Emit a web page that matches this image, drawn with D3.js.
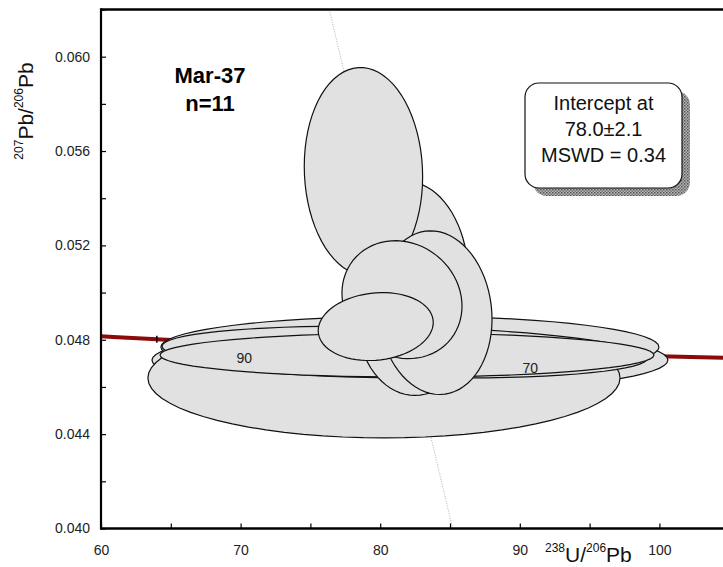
<!DOCTYPE html>
<html>
<head>
<meta charset="utf-8">
<script src="https://cdn.jsdelivr.net/npm/d3@7"></script>
<style>
  body { margin: 0; background: #fff; }
  svg { display: block; font-family: Arial, "Liberation Sans", sans-serif; }
  .tick text { font-size: 14px; fill: #222; }
</style>
</head>
<body>
<div id="chart"></div>
<script>
// Tera-Wasserburg plot, sample Mar-37

// error ellipses (2 sigma), in drawing order
const spotNames = ['T0', 'G', 'T1', 'T2', 'T3', 'B', 'A', 'F', 'C', 'D', 'E'];
const spotX    = [82.13, 80.27, 82.13, 81.78, 81.92, 82.35, 78.80, 82.49, 83.93, 81.56, 79.68];
const spotXErr = [18.48, 16.91, 17.84, 17.41, 17.69, 3.94, 4.24, 4.13, 4.08, 4.30, 4.12];
const spotY    = [0.04714, 0.04638, 0.04769, 0.04748, 0.04735, 0.05114, 0.05513, 0.04890, 0.04915, 0.04970, 0.04856];
const spotYErr = [0.00136, 0.00254, 0.00131, 0.00110, 0.00093, 0.00356, 0.00441, 0.00326, 0.00347, 0.00250, 0.00144];
const spotRho  = [0, 0, 0, -0.22, 0, -0.1, -0.05, 0, -0.08, -0.11, 0.12];

// concordia curve
const concordiaX = [60, 64, 70, 75, 80, 85, 90, 95, 100, 105, 110];
const concordiaY = [0.04815, 0.04802, 0.04784, 0.04772, 0.04761, 0.04752, 0.04744, 0.04736, 0.04730, 0.04723, 0.04716];

// age marks on the concordia (Ma)
const ageMa = [100, 90, 80, 70];
const ageX  = [64.0, 71.1, 80.0, 91.6];
const ageY  = [0.04802, 0.04782, 0.04761, 0.04741];
const ageShown = [90, 70];

// discordia end points
const discordiaX = [76.35, 85.19];
const discordiaY = [0.062, 0.040];

const xTicks = [60, 65, 70, 75, 80, 85, 90, 95, 100, 105, 110];
const xLabels = [60, 70, 80, 90, 100];
const yTicks = [0.040, 0.042, 0.044, 0.046, 0.048, 0.050, 0.052, 0.054, 0.056, 0.058, 0.060, 0.062];
const yLabels = [0.040, 0.044, 0.048, 0.052, 0.056, 0.060];

const boxLines = ['Intercept at', '78.0\u00b12.1', 'MSWD = 0.34'];

const W = 723, H = 567;
const margin = { left: 101, top: 9.5 };
const plotW = 698, plotH = 519;

const svg = d3.select('#chart').append('svg')
  .attr('width', W).attr('height', H);

const defs = svg.append('defs');
defs.append('clipPath').attr('id', 'plotClip')
  .append('rect').attr('x', 0).attr('y', 0).attr('width', plotW).attr('height', plotH);
const pat = defs.append('pattern').attr('id', 'halftone')
  .attr('width', 3).attr('height', 3).attr('patternUnits', 'userSpaceOnUse');
pat.append('rect').attr('width', 3).attr('height', 3).attr('fill', '#b4b4b4');
pat.append('rect').attr('width', 1.5).attr('height', 1.5).attr('fill', '#555');
pat.append('rect').attr('x', 1.5).attr('y', 1.5).attr('width', 1.5).attr('height', 1.5).attr('fill', '#777');

const g = svg.append('g')
  .attr('transform', 'translate(' + margin.left + ',' + margin.top + ')');

const x = d3.scaleLinear().domain([60, 110]).range([0, plotW]);
const y = d3.scaleLinear().domain([0.040, 0.062]).range([plotH, 0]);

const plot = g.append('g').attr('clip-path', 'url(#plotClip)');

// discordia
plot.append('line')
  .attr('x1', x(discordiaX[0])).attr('y1', y(discordiaY[0]))
  .attr('x2', x(discordiaX[1])).attr('y2', y(discordiaY[1]))
  .attr('stroke', '#9a9a9a').attr('stroke-width', 0.8)
  .attr('stroke-dasharray', '1,1.5');

// concordia
const line = d3.line().x(d => x(d[0])).y(d => y(d[1])).curve(d3.curveMonotoneX);
plot.append('path')
  .datum(d3.zip(concordiaX, concordiaY))
  .attr('d', line)
  .attr('fill', 'none')
  .attr('stroke', '#8c0a0a')
  .attr('stroke-width', 4);

plot.selectAll('.agetick')
  .data(ageX)
  .enter().append('line')
  .attr('class', 'agetick')
  .attr('x1', d => x(d)).attr('x2', d => x(d))
  .attr('y1', (d, i) => y(ageY[i]) - 3.5)
  .attr('y2', (d, i) => y(ageY[i]) + 3.5)
  .attr('stroke', '#000').attr('stroke-width', 1.5);

// ellipses
function ellipsePath(i) {
  const n = 72, pts = [];
  const r = spotRho[i], s = Math.sqrt(1 - r * r);
  for (let k = 0; k < n; k++) {
    const t = 2 * Math.PI * k / n;
    const dx = spotXErr[i] * Math.cos(t);
    const dy = spotYErr[i] * (r * Math.cos(t) + s * Math.sin(t));
    pts.push([x(spotX[i] + dx), y(spotY[i] + dy)]);
  }
  return d3.line().curve(d3.curveLinearClosed)(pts);
}

plot.selectAll('.spot')
  .data(spotNames)
  .enter().append('path')
  .attr('class', 'spot')
  .attr('d', (d, i) => ellipsePath(i))
  .attr('fill', '#e1e1e1')
  .attr('stroke', '#111')
  .attr('stroke-width', 1.2);

// age labels
plot.selectAll('.agelabel')
  .data(ageShown)
  .enter().append('text')
  .attr('class', 'agelabel')
  .attr('x', d => x(ageX[ageMa.indexOf(d)]) - 4)
  .attr('y', d => y(ageY[ageMa.indexOf(d)]) + 19)
  .attr('text-anchor', 'end')
  .style('font-size', '14px')
  .attr('fill', '#222')
  .text(d => d);

// axes
const fmtY = d3.format('.3f');
const xAxis = d3.axisBottom(x).tickValues(xTicks).tickSize(-5).tickPadding(17)
  .tickFormat(d => xLabels.indexOf(d) >= 0 ? d : '');
const yAxis = d3.axisLeft(y).tickValues(yTicks).tickSize(-5).tickPadding(11)
  .tickFormat(d => yLabels.some(v => Math.abs(v - d) < 1e-9) ? fmtY(d) : '');

const xAxisG = g.append('g').attr('transform', 'translate(0,' + plotH + ')').call(xAxis);
const yAxisG = g.append('g').call(yAxis);
[xAxisG, yAxisG].forEach(a => {
  a.select('.domain').remove();
  a.selectAll('.tick line').attr('stroke', '#000').attr('stroke-width', 1.2);
});

g.append('line').attr('x1', 0).attr('x2', plotW).attr('y1', plotH).attr('y2', plotH)
  .attr('stroke', '#000').attr('stroke-width', 2.4);
g.append('line').attr('x1', 0).attr('x2', plotW).attr('y1', 0).attr('y2', 0)
  .attr('stroke', '#000').attr('stroke-width', 2.6);
g.append('line').attr('x1', 0).attr('x2', 0).attr('y1', -1.3).attr('y2', plotH + 1.2)
  .attr('stroke', '#000').attr('stroke-width', 2.2);

// axis titles
const xt = svg.append('text').attr('x', 545).attr('y', 562).attr('fill', '#111')
  .style('font-size', '21px');
xt.append('tspan').text('238').style('font-size', '12px').attr('dy', -10);
xt.append('tspan').text('U/').attr('dy', 10);
xt.append('tspan').text('206').style('font-size', '12px').attr('dy', -10);
xt.append('tspan').text('Pb').attr('dy', 10);

const yt = svg.append('text')
  .attr('transform', 'translate(33,111) rotate(-90)')
  .attr('text-anchor', 'middle').attr('fill', '#111')
  .style('font-size', '21px');
yt.append('tspan').text('207').style('font-size', '12px').attr('dy', -10);
yt.append('tspan').text('Pb/').attr('dy', 10);
yt.append('tspan').text('206').style('font-size', '12px').attr('dy', -10);
yt.append('tspan').text('Pb').attr('dy', 10);

// sample name
svg.append('text').attr('x', 210).attr('y', 83).attr('text-anchor', 'middle')
  .style('font-size', '22px').style('font-weight', 'bold').text('Mar-37');
svg.append('text').attr('x', 210).attr('y', 111).attr('text-anchor', 'middle')
  .style('font-size', '22px').style('font-weight', 'bold').text('n=11');

// result box
const box = { x: 525, y: 83, w: 157, h: 105 };
svg.append('rect')
  .attr('x', box.x + 8).attr('y', box.y + 8).attr('width', box.w).attr('height', box.h)
  .attr('rx', 14).attr('fill', 'url(#halftone)');
svg.append('rect')
  .attr('x', box.x).attr('y', box.y).attr('width', box.w).attr('height', box.h)
  .attr('rx', 14).attr('fill', '#fff').attr('stroke', '#111').attr('stroke-width', 1.2);
svg.selectAll('.boxline')
  .data(boxLines)
  .enter().append('text')
  .attr('class', 'boxline')
  .attr('x', box.x + box.w / 2)
  .attr('y', (d, i) => 110 + i * 26)
  .attr('text-anchor', 'middle')
  .style('font-size', '20px').attr('fill', '#111')
  .text(d => d);
</script>
</body>
</html>
